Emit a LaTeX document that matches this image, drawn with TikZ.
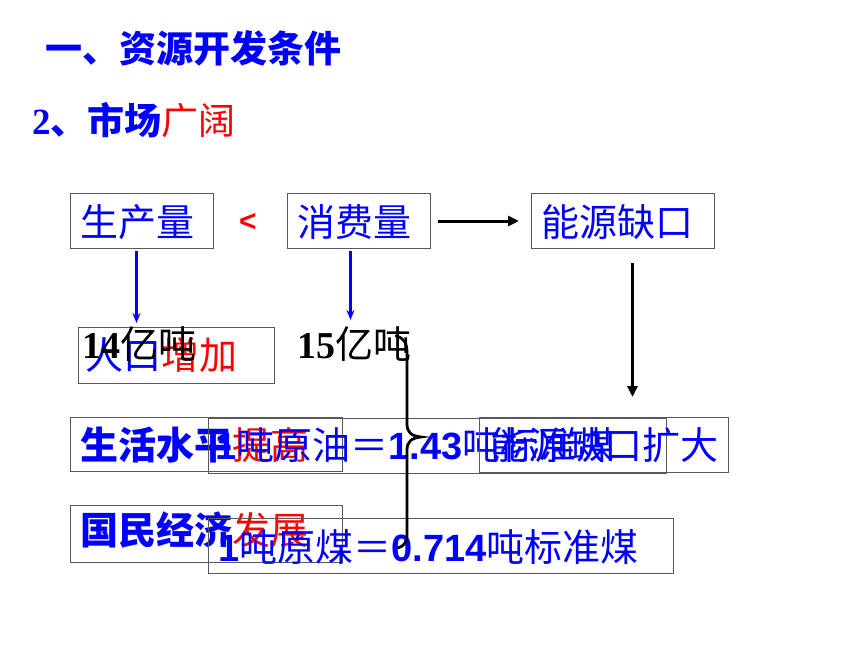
\documentclass[tikz,border=0pt]{standalone}
\usepackage{fontspec}
\setmainfont{Noto Sans CJK SC}
\newfontfamily\serifd{Liberation Serif}
\newfontfamily\sansd{Liberation Sans}
\usetikzlibrary{arrows.meta}
\definecolor{pblue}{RGB}{0,0,255}
\definecolor{pred}{RGB}{255,0,0}
\begin{document}
\begin{tikzpicture}[x=1pt,y=-1pt,
  box/.style={draw=black!65, line width=1pt, anchor=north west, inner sep=0pt},
  txt/.style={anchor=base west, inner sep=0pt, font=\fontsize{38}{40}\selectfont},
  ttl/.style={anchor=base west, inner sep=0pt, font=\fontsize{37}{40}\selectfont\bfseries, text=pblue},
  barrow/.style={draw=pblue, line width=2.2pt, -{Stealth[length=10pt,width=8pt]}},
  karrow/.style={draw=black, line width=3pt, -{Triangle[length=11pt,width=10pt]}}]
\useasboundingbox[fill=white] (0,0) rectangle (860,645);

% titles
\node[ttl] (t1) at (45,62) {一、资源开发条件};
\node[ttl] (t2) at (32,134) {{\serifd 2}、市场\textcolor{pred}{\mdseries 广阔}};

% top row
\node[box, minimum width=143pt, minimum height=55pt] (prod) at (70,193) {};
\node[txt, text=pblue] (prodt) at (80,236) {生产量};
\node[font=\sansd\bfseries\fontsize{30}{32}\selectfont, text=pred, inner sep=0pt] (lt) at (248,222) {<};
\node[box, minimum width=143pt, minimum height=55pt] (cons) at (287,193) {};
\node[txt, text=pblue] (const) at (297,236) {消费量};
\node[box, minimum width=183pt, minimum height=55pt] (gap) at (531,193) {};
\node[txt, text=pblue] (gapt) at (541,236) {能源缺口};

% second row
\node[box, minimum width=196pt, minimum height=56pt] (pop) at (78,327) {};
\node[txt] (popt) at (85,369) {\textcolor{pblue}{人口}\textcolor{pred}{增加}};
\node[txt] (n14) at (82,358) {{\serifd\bfseries 14}亿吨};
\node[txt] (n15) at (297,358) {{\serifd\bfseries 15}亿吨};

% third row
\node[box, minimum width=272pt, minimum height=54pt] (life) at (70,417) {};
\node[txt] (lifet) at (80,459) {\textcolor{pblue}{\bfseries 生活水平}\textcolor{pred}{提高}};
\node[box, minimum width=458pt, minimum height=55pt] (oil) at (208,418) {};
\node[txt, text=pblue] (oilt) at (215,459) {{\sansd\bfseries 1}吨原油＝{\sansd\bfseries 1.43}吨标准煤};
\node[box, minimum width=249pt, minimum height=55pt] (wide) at (479,417) {};
\node[txt, text=pblue] (widet) at (490,459) {能源缺口扩大};

% fourth row
\node[box, minimum width=272pt, minimum height=57pt] (econ) at (70,505) {};
\node[txt] (econt) at (80,544) {\textcolor{pblue}{\bfseries 国民经济}\textcolor{pred}{发展}};
\node[box, minimum width=465pt, minimum height=55pt] (coal) at (208,518) {};
\node[txt, text=pblue] (coalt) at (218,561) {{\sansd\bfseries 1}吨原煤＝{\sansd\bfseries 0.714}吨标准煤};

% connectors
\coordinate (a1s) at ([xshift=-5.5pt]prod.south);
\draw[barrow, shorten <=2pt, shorten >=4pt] (a1s) -- (a1s |- pop.north);
\coordinate (a2s) at ([xshift=-8.5pt]cons.south);
\coordinate (a2e) at (a2s |- n15.north);
\draw[barrow, shorten <=2pt, shorten >=6pt] (a2s) -- (a2e);
\draw[karrow, shorten <=7pt, shorten >=12pt] (cons.east) -- (gap.west);
\coordinate (a3s) at ([xshift=9.5pt]gap.south);
\draw[karrow, shorten <=14pt, shorten >=20pt] (a3s) -- (a3s |- wide.north);

% brace
\draw[line width=2.8pt, line cap=round] (396,336) .. controls (404,338) and (407,343) .. (407,353)
  -- (407,424) .. controls (407,432) and (411,436) .. (421,437)
  .. controls (411,438) and (407,442) .. (407,450)
  -- (407,536) .. controls (407,542) and (404,546) .. (398,548);
\end{tikzpicture}
\end{document}
